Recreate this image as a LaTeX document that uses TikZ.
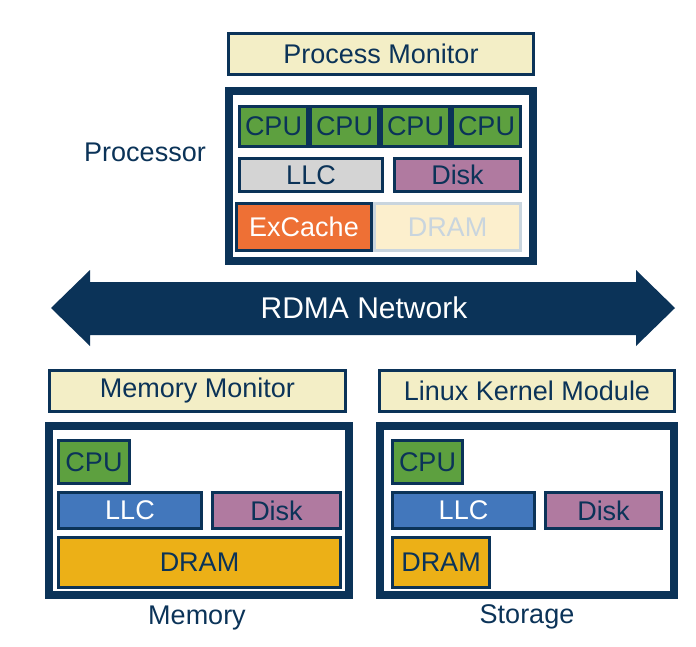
\documentclass[tikz,border=0pt]{standalone}
\usepackage{fontspec}
\setmainfont{Liberation Sans}
\usetikzlibrary{shapes.misc}

\definecolor{navy}{HTML}{0B3358}
\definecolor{monyellow}{HTML}{F3EEC6}
\definecolor{cpugreen}{HTML}{5DA03F}
\definecolor{llcgrey}{HTML}{D4D4D4}
\definecolor{llcblue}{HTML}{4277BC}
\definecolor{diskpurple}{HTML}{B07AA0}
\definecolor{exorange}{HTML}{EE7035}
\definecolor{dramgold}{HTML}{ECB017}
\definecolor{fadefill}{HTML}{FCEFCD}
\definecolor{fadeline}{HTML}{C9D5DE}

\tikzset{
  boxfont/.style={font=\fontsize{27}{31}\selectfont},
  part/.style={rectangle,draw=navy,line width=3pt,inner sep=0pt,text=navy,boxfont},
  frame/.style={rectangle,draw=navy,line width=8pt,fill=white,inner sep=0pt},
}

\begin{document}
\begin{tikzpicture}[x=1pt,y=-1pt]
\useasboundingbox (0,0) rectangle (696,646);
% outer frames
\begin{scope}[every node/.style={frame}]
    \node[minimum width=304pt,minimum height=170pt] (F1) at (381,176) {};
    \node[minimum width=300pt,minimum height=169pt] (F2) at (199,510.5) {};
    \node[minimum width=294pt,minimum height=169pt] (F3) at (527,510.5) {};
\end{scope}
% monitors
\begin{scope}[every node/.style={part,fill=monyellow,minimum height=41pt}]
    \node[minimum width=305pt] (M1) at (381,53.5) {Process Monitor};
    \node[minimum width=296pt] (M2) at (197.5,390.5) {Memory Monitor};
    \node[minimum width=295pt] (M3) at (527,390.5) {Linux Kernel Module};
\end{scope}
% processor
\begin{scope}[every node/.style={part,fill=cpugreen,minimum width=68pt,minimum height=40pt}]
    \node (A1) at (273.5,126.5) {CPU};
    \node (A2) at (344.5,126.5) {CPU};
    \node (A3) at (415.5,126.5) {CPU};
    \node (A4) at (486.5,126.5) {CPU};
\end{scope}
\node[part,fill=llcgrey,minimum width=143pt,minimum height=33pt] (A5) at (311,175) {LLC};
\node[part,fill=diskpurple,minimum width=126pt,minimum height=33pt] (A6) at (457.5,175) {Disk};
\node[part,draw=fadeline,fill=fadefill,text=fadeline,minimum width=146pt,minimum height=47pt] (A8) at (447.5,227) {DRAM};
\node[part,fill=exorange,text=white,minimum width=135pt,minimum height=47pt] (A7) at (304,227) {ExCache};
% memory
\node[part,fill=cpugreen,minimum width=71pt,minimum height=43pt] (B1) at (94,462) {CPU};
\node[part,fill=llcblue,text=white,minimum width=143pt,minimum height=36pt] (B2) at (130,510.5) {LLC};
\node[part,fill=diskpurple,minimum width=128pt,minimum height=36pt] (B3) at (276.5,510.5) {Disk};
\node[part,fill=dramgold,minimum width=282pt,minimum height=50pt] (B4) at (199.5,562.5) {DRAM};
% storage
\node[part,fill=cpugreen,minimum width=70pt,minimum height=43pt] (C1) at (427.5,462) {CPU};
\node[part,fill=llcblue,text=white,minimum width=142pt,minimum height=36pt] (C2) at (463.5,510.5) {LLC};
\node[part,fill=diskpurple,minimum width=116pt,minimum height=36pt] (C3) at (603.5,510.5) {Disk};
\node[part,fill=dramgold,minimum width=97pt,minimum height=50pt] (C4) at (441,562.5) {DRAM};
% labels
\begin{scope}[every node/.style={text=navy,boxfont}]
    \node (L1) at (145,152) {Processor};
    \node (L2) at (197,618) {Memory};
    \node (L3) at (527,617) {Storage};
\end{scope}
% network arrow
\fill[navy] (51,308) -- (90,270) -- (90,282) -- (636,282) -- (636,270) -- (675,308)
    -- (636,346) -- (636,335) -- (90,335) -- (90,346) -- cycle;
\node[text=white,font=\fontsize{30}{34}\selectfont] (N) at (364,308) {RDMA Network};
\end{tikzpicture}
\end{document}
